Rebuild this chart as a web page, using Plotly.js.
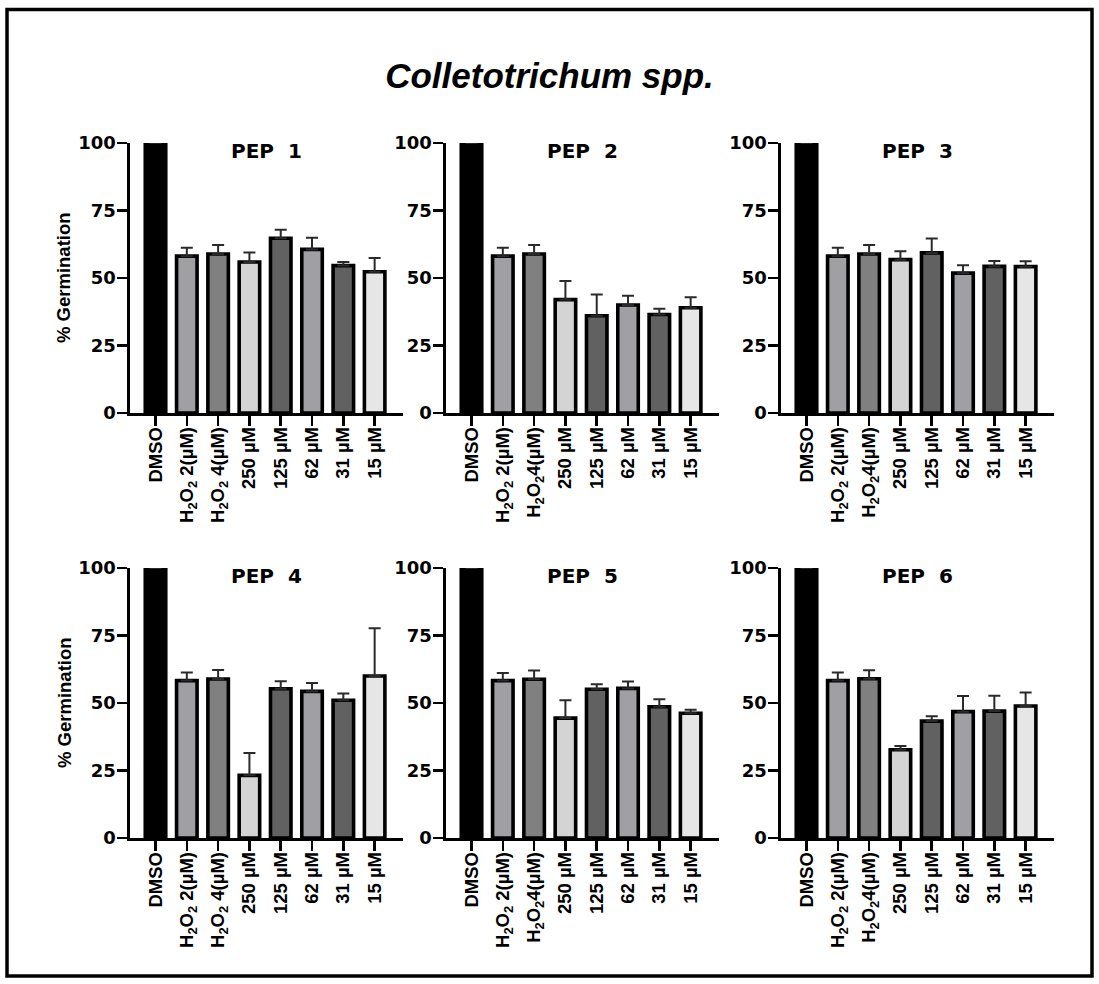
<!DOCTYPE html>
<html>
<head>
<meta charset="utf-8">
<script src="https://cdn.plot.ly/plotly-3.0.1.min.js"></script>
<style>
  html, body { margin: 0; padding: 0; background: #ffffff; }
  #chart { width: 1099px; height: 984px; }
</style>
</head>
<body>
<div id="chart"></div>
<script>
// Spore germination (%) of Colletotrichum spp. under each peptide treatment
const panelTitles = ['PEP  1', 'PEP  2', 'PEP  3', 'PEP  4', 'PEP  5', 'PEP  6'];

const dmsoLabel = 'DMSO';
const h2o2Low = 'H<sub>2</sub>O<sub>2</sub> 2(µM)';
const h2o2High = 'H<sub>2</sub>O<sub>2</sub> 4(µM)';
const h2o2HighTight = 'H<sub>2</sub>O<sub>2</sub>4(µM)';
const concLabels = ['250 µM', '125 µM', '62 µM', '31 µM', '15 µM'];

// which spelling of the 4 µM H2O2 label each panel uses
const highLabelPerPanel = [h2o2High, h2o2HighTight, h2o2HighTight, h2o2High, h2o2HighTight, h2o2HighTight];

// mean germination per treatment (DMSO, H2O2 2, H2O2 4, 250, 125, 62, 31, 15 µM)
const pep1 = [100, 58.1, 58.9, 55.9, 64.7, 60.6, 54.6, 52.3];
const pep2 = [100, 58.1, 58.9, 42.0, 36.0, 40.0, 36.5, 39.0];
const pep3 = [100, 58.1, 58.9, 56.8, 59.3, 51.8, 54.3, 54.2];
const pep4 = [100, 58.3, 58.9, 23.2, 55.3, 54.3, 51.0, 60.0];
const pep5 = [100, 58.3, 58.8, 44.4, 55.1, 55.4, 48.6, 46.2];
const pep6 = [100, 58.3, 59.0, 32.7, 43.3, 46.8, 47.0, 48.9];

// upper error (SD) for each bar
const err1 = [0, 3.1, 3.3, 3.5, 3.2, 4.3, 1.3, 5.1];
const err2 = [0, 3.1, 3.3, 6.9, 7.9, 3.4, 2.1, 3.9];
const err3 = [0, 3.1, 3.3, 3.1, 5.3, 2.9, 2.0, 2.0];
const err4 = [0, 3.0, 3.3, 8.3, 2.8, 3.1, 2.5, 17.7];
const err5 = [0, 2.8, 3.2, 6.6, 1.8, 2.6, 2.8, 1.3];
const err6 = [0, 3.0, 3.1, 1.4, 1.8, 5.8, 5.7, 5.0];

const means = [pep1, pep2, pep3, pep4, pep5, pep6];
const errors = [err1, err2, err3, err4, err5, err6];

const barColors = ['#000000', '#a0a0a4', '#808080', '#d4d4d4', '#616161', '#a0a0a4', '#616161', '#e6e6e6'];

const yTicks = [0, 25, 50, 75, 100];

// page geometry (pixels)
const W = 1099, H = 984;
const colPx = [[130, 402.5], [446, 718.5], [781, 1053.5]];
const rowPx = [[143, 413], [568, 838]];

const boldArial = { family: 'Arial, "Liberation Sans", sans-serif', color: '#000000', weight: 700 };
const boldWide = { family: '"DejaVu Sans", Arial, sans-serif', color: '#000000', weight: 700 };

const traces = [];
const layout = {
  width: W,
  height: H,
  margin: { l: 0, r: 0, t: 0, b: 0, pad: 0 },
  paper_bgcolor: '#ffffff',
  plot_bgcolor: 'rgba(0,0,0,0)',
  showlegend: false,
  title: {
    text: '<i>Colletotrichum spp.</i>',
    font: { family: 'Arial, "Liberation Sans", sans-serif', size: 35, color: '#000000', weight: 700 },
    x: 0.5, xanchor: 'center',
    y: 1 - 76 / H, yanchor: 'middle',
    xref: 'paper', yref: 'paper'
  },
  annotations: [],
  shapes: [{
    type: 'rect', xref: 'paper', yref: 'paper',
    x0: 7 / W, x1: 1092 / W, y0: 1 - 976 / H, y1: 1 - 9.5 / H,
    line: { color: '#000000', width: 3.5 },
    fillcolor: 'rgba(0,0,0,0)'
  }]
};

for (let p = 0; p < 6; p++) {
  const row = Math.floor(p / 3);
  const col = p % 3;
  const n = p + 1;
  const xName = n === 1 ? 'xaxis' : 'xaxis' + n;
  const yName = n === 1 ? 'yaxis' : 'yaxis' + n;
  const xRef = n === 1 ? 'x' : 'x' + n;
  const yRef = n === 1 ? 'y' : 'y' + n;

  const cats = [dmsoLabel, h2o2Low, highLabelPerPanel[p]].concat(concLabels);

  traces.push({
    type: 'bar',
    x: cats,
    y: means[p],
    xaxis: xRef,
    yaxis: yRef,
    width: 0.655,
    marker: { color: barColors, line: { color: '#000000', width: 3.6 } },
    error_y: {
      type: 'data',
      symmetric: false,
      array: errors[p],
      arrayminus: errors[p].map(() => 0),
      color: '#2a2a2a',
      thickness: 2,
      width: 6
    },
    hoverinfo: 'x+y'
  });

  const [xl, xr] = colPx[col];
  const [yt, yb] = rowPx[row];

  layout[xName] = {
    domain: [xl / W, xr / W],
    anchor: yRef,
    type: 'category',
    categoryorder: 'array',
    categoryarray: cats,
    range: [-0.815, 7.89],
    showline: true, linecolor: '#000000', linewidth: 2.6,
    ticks: 'outside', ticklen: 10, tickwidth: 2.6, tickcolor: '#000000',
    tickangle: -90,
    ticklabelstandoff: -6,
    tickfont: Object.assign({ size: 18.5 }, boldArial),
    showgrid: false, zeroline: false,
    fixedrange: true
  };
  layout[yName] = {
    domain: [1 - yb / H, 1 - yt / H],
    anchor: xRef,
    range: [0, 100],
    tickmode: 'array',
    tickvals: yTicks,
    ticktext: yTicks.map(String),
    showline: true, linecolor: '#000000', linewidth: 2.6,
    ticks: 'outside', ticklen: 10, tickwidth: 2.6, tickcolor: '#000000',
    ticklabelstandoff: -2,
    tickfont: Object.assign({ size: 18 }, boldWide),
    showgrid: false, zeroline: false,
    fixedrange: true
  };

  // panel heading
  layout.annotations.push({
    text: panelTitles[p],
    xref: xRef + ' domain', yref: yRef + ' domain',
    x: 0.5, y: 0.97,
    xanchor: 'center', yanchor: 'middle',
    showarrow: false,
    font: Object.assign({ size: 20 }, boldWide)
  });

  // y-axis label on the left column only
  if (col === 0) {
    layout.annotations.push({
      text: '% Germination',
      xref: 'paper', yref: 'paper',
      x: 64 / W, y: 1 - ((yt + yb) / 2) / H,
      xanchor: 'center', yanchor: 'middle',
      textangle: -90,
      showarrow: false,
      font: Object.assign({ size: 18.5 }, boldArial)
    });
  }
}

Plotly.newPlot('chart', traces, layout, { displayModeBar: false, staticPlot: true });
</script>
</body>
</html>
